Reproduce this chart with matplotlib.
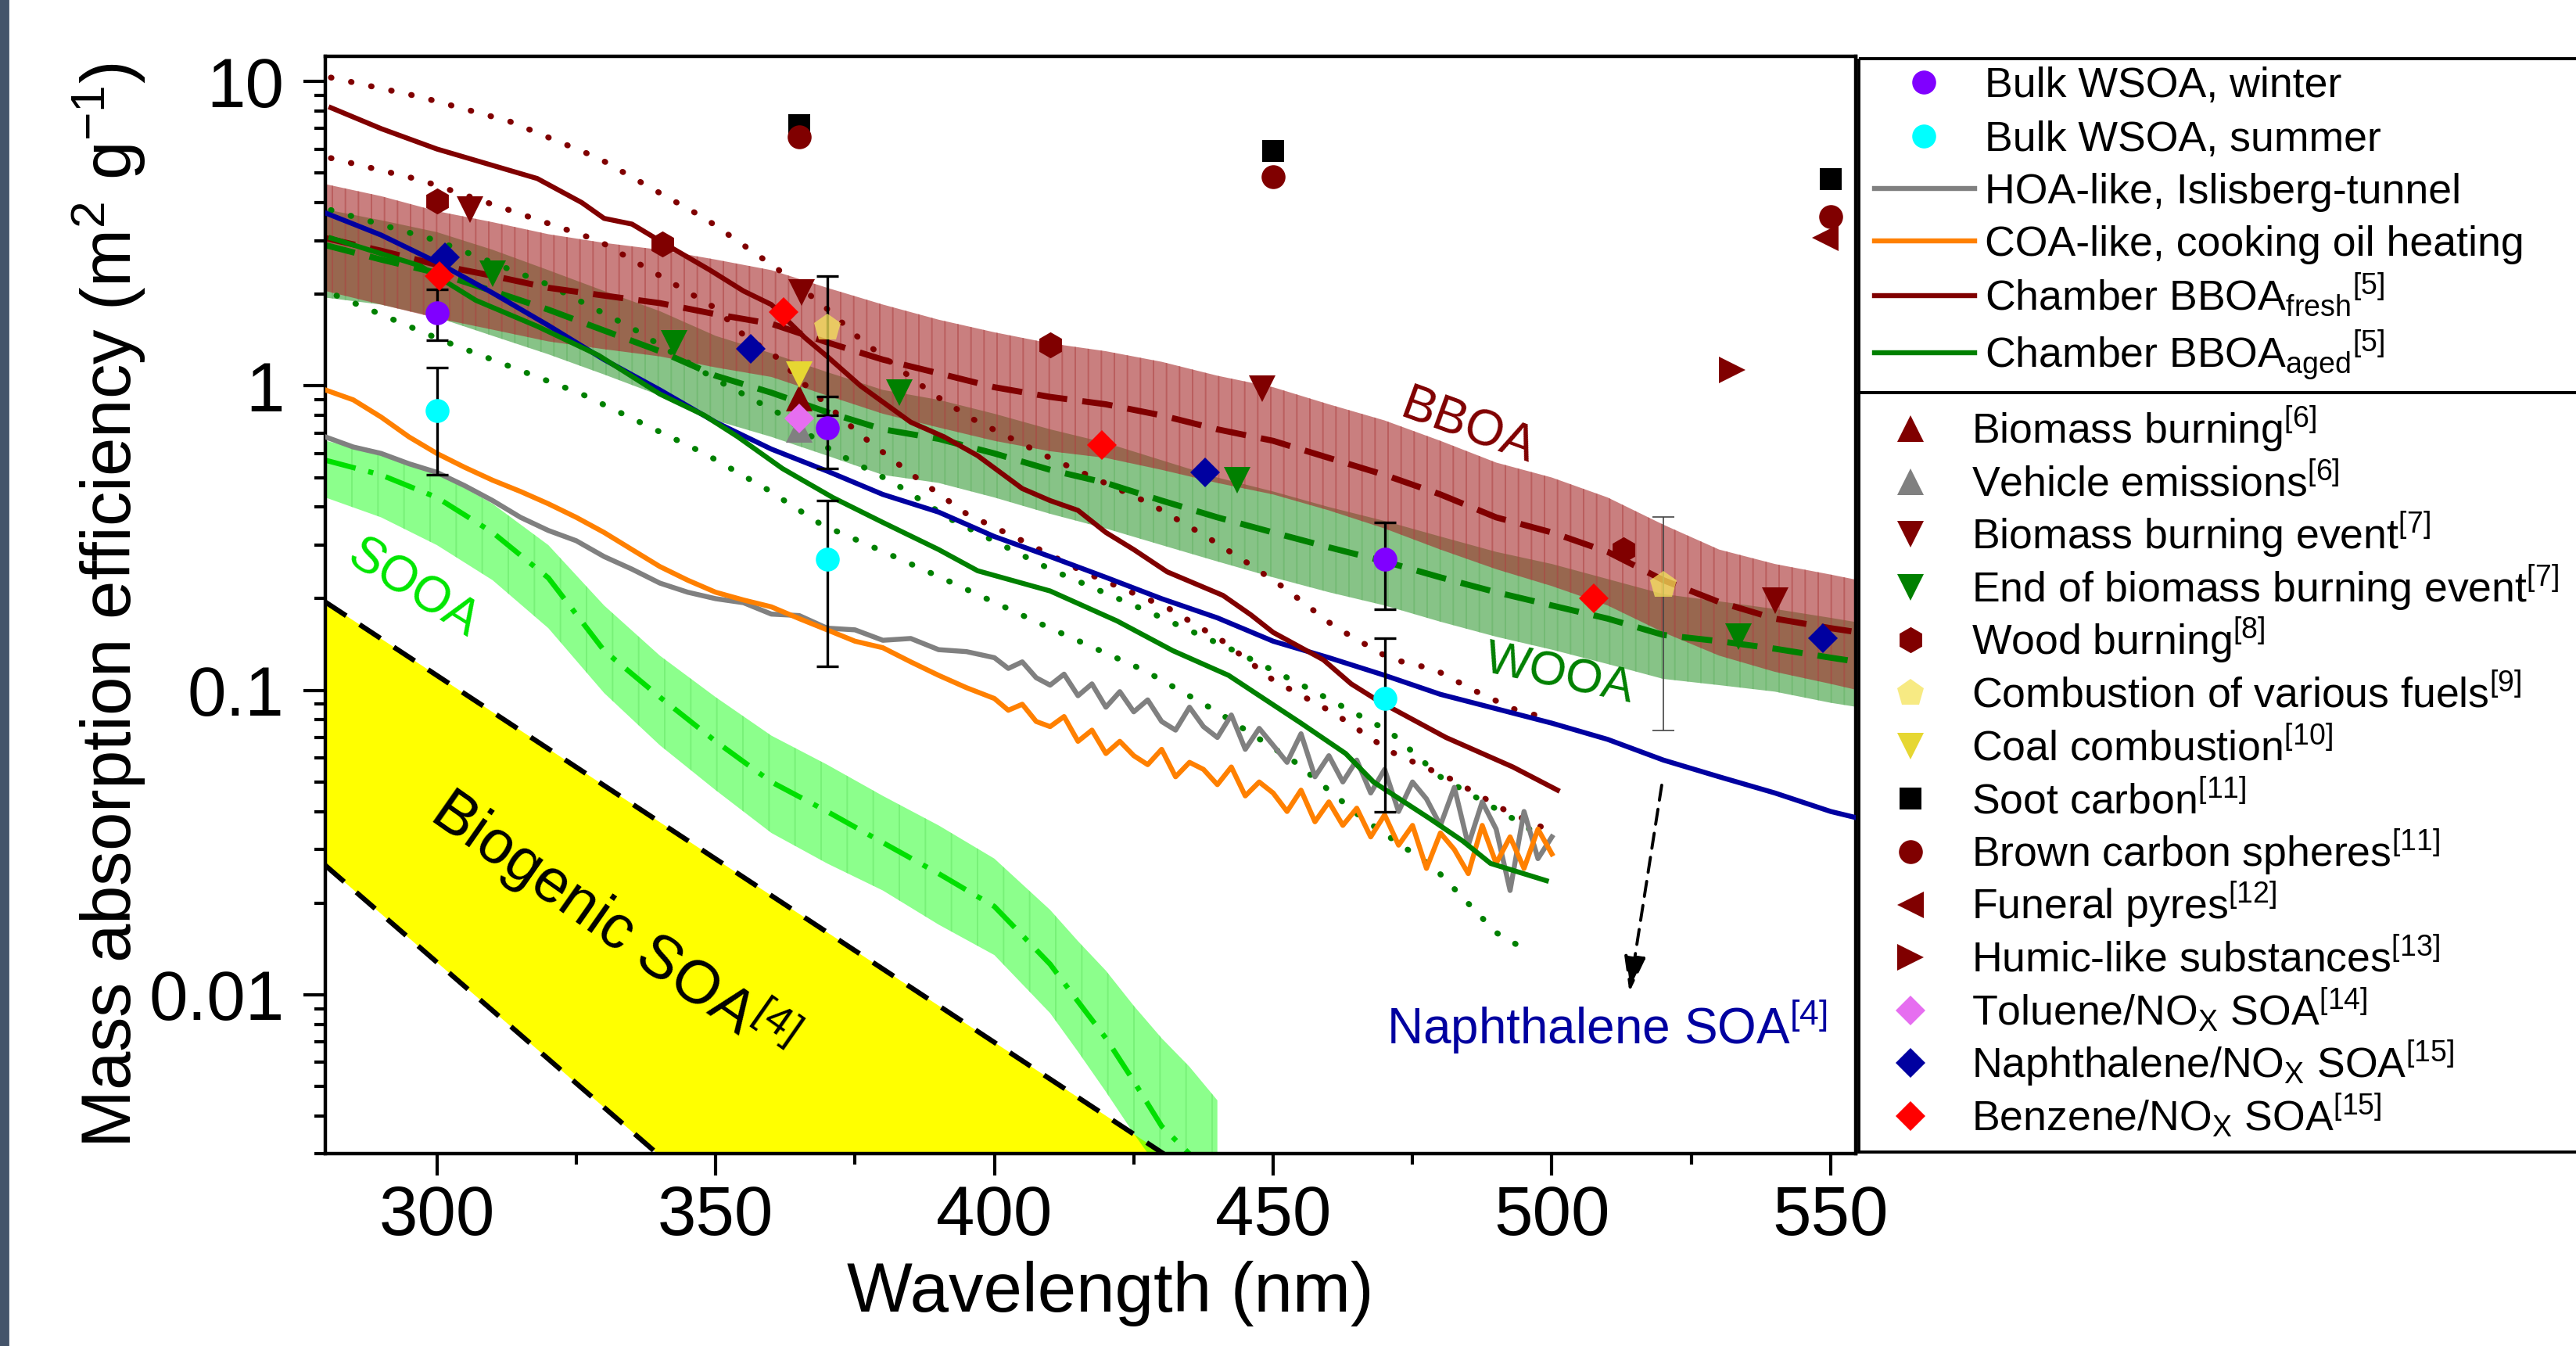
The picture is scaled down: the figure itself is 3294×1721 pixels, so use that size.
import matplotlib
matplotlib.use('Agg')
import matplotlib.pyplot as plt
import numpy as np
from matplotlib.patches import Rectangle
from matplotlib.ticker import LogLocator, NullFormatter, MultipleLocator

plt.rcParams['font.family'] = ['Liberation Sans', 'DejaVu Sans']
plt.rcParams['mathtext.fontset'] = 'custom'
plt.rcParams['mathtext.rm'] = 'Liberation Sans'
plt.rcParams['mathtext.it'] = 'Liberation Sans:italic'
plt.rcParams['mathtext.bf'] = 'Liberation Sans:bold'
plt.rcParams['hatch.linewidth'] = 0.7

# ---------------- data ----------------
band_wl = [280, 290, 300, 310, 320, 330, 340, 350, 360, 370, 380, 390, 400, 410, 420,
           430, 440, 450, 460, 470, 480, 490, 500, 510, 520, 530, 540, 550, 555]
bboa_mid = [3.06, 2.78, 2.5, 2.3, 2.1, 1.98, 1.87, 1.72, 1.6, 1.39, 1.22, 1.1, 0.99, 0.92, 0.87,
            0.8, 0.72, 0.66, 0.58, 0.51, 0.44, 0.37, 0.33, 0.285, 0.23, 0.195, 0.172, 0.16, 0.155]
bboa_hi = [4.6, 4.2, 3.75, 3.45, 3.15, 2.95, 2.8, 2.6, 2.4, 2.1, 1.85, 1.65, 1.5, 1.38, 1.3,
           1.2, 1.08, 0.99, 0.87, 0.77, 0.66, 0.56, 0.5, 0.43, 0.35, 0.29, 0.26, 0.24, 0.23]
bboa_lo = [2.05, 1.85, 1.67, 1.53, 1.4, 1.32, 1.25, 1.15, 1.07, 0.93, 0.81, 0.73, 0.66, 0.61, 0.58,
           0.53, 0.48, 0.44, 0.39, 0.34, 0.29, 0.25, 0.22, 0.19, 0.155, 0.13, 0.115, 0.105, 0.1]
wooa_mid = [2.9, 2.6, 2.35, 2.05, 1.78, 1.52, 1.3, 1.08, 0.95, 0.82, 0.72, 0.67, 0.6, 0.53, 0.48,
            0.42, 0.37, 0.33, 0.295, 0.265, 0.235, 0.21, 0.19, 0.172, 0.152, 0.145, 0.137, 0.128, 0.124]
wooa_hi = [3.8, 3.5, 3.2, 2.8, 2.4, 2.05, 1.76, 1.46, 1.28, 1.11, 0.97, 0.9, 0.81, 0.72, 0.65,
           0.57, 0.5, 0.45, 0.4, 0.36, 0.32, 0.285, 0.26, 0.232, 0.207, 0.196, 0.185, 0.173, 0.167]
wooa_lo = [1.95, 1.85, 1.68, 1.46, 1.27, 1.09, 0.93, 0.77, 0.68, 0.59, 0.51, 0.48, 0.43, 0.38, 0.34,
           0.3, 0.265, 0.235, 0.21, 0.19, 0.168, 0.15, 0.136, 0.122, 0.109, 0.104, 0.099, 0.091, 0.088]

sooa_wl = [280, 290, 300, 310, 320, 330, 340, 350, 360, 370, 380, 390, 400, 410, 415, 420, 425, 430, 435, 440]
sooa_mid = [0.57, 0.51, 0.43, 0.33, 0.234, 0.135, 0.095, 0.068, 0.05, 0.04, 0.0316, 0.025, 0.0195,
            0.0126, 0.0095, 0.0072, 0.0052, 0.0037, 0.003, 0.0024]
sooa_hi = [0.66, 0.6, 0.52, 0.41, 0.3, 0.19, 0.13, 0.095, 0.071, 0.057, 0.045, 0.036, 0.028,
           0.019, 0.015, 0.012, 0.0092, 0.0072, 0.0058, 0.0045]
sooa_lo = [0.43, 0.37, 0.3, 0.23, 0.16, 0.098, 0.066, 0.047, 0.034, 0.027, 0.022, 0.017, 0.0135,
           0.0087, 0.0065, 0.0048, 0.0035, 0.0026, 0.002, 0.0016]

# biogenic SOA range (dashed limits)
bsoa_up_wl = [280, 430.4]
bsoa_up = [0.195, 0.003]
bsoa_lo_wl = [280, 339.6]
bsoa_lo = [0.0266, 0.003]

noisy_wl = np.concatenate([np.arange(280, 400, 5), np.arange(400, 500.1, 2.5)])
hoa_val = [0.68, 0.63, 0.6, 0.555, 0.52, 0.47, 0.42, 0.37, 0.335, 0.31, 0.275, 0.25, 0.225, 0.21,
           0.2, 0.194, 0.178, 0.176, 0.16, 0.158, 0.146, 0.148, 0.136, 0.134,
           0.128, 0.118, 0.124, 0.11, 0.104, 0.113, 0.096, 0.105, 0.088, 0.099, 0.085, 0.093, 0.079,
           0.074, 0.088, 0.076, 0.07, 0.083, 0.064, 0.075, 0.066, 0.058, 0.072, 0.052, 0.061, 0.05,
           0.059, 0.046, 0.055, 0.04, 0.05, 0.044, 0.036, 0.048, 0.031, 0.043, 0.035, 0.022, 0.04,
           0.028, 0.033]
coa_val = [0.97, 0.9, 0.79, 0.68, 0.6, 0.54, 0.49, 0.45, 0.41, 0.37, 0.33, 0.29, 0.255, 0.23,
           0.21, 0.198, 0.188, 0.172, 0.158, 0.145, 0.138, 0.124, 0.112, 0.102,
           0.094, 0.086, 0.09, 0.079, 0.076, 0.082, 0.068, 0.074, 0.062, 0.068, 0.061, 0.057, 0.064,
           0.052, 0.058, 0.055, 0.049, 0.056, 0.045, 0.05, 0.046, 0.04, 0.047, 0.037, 0.043, 0.036,
           0.041, 0.033, 0.039, 0.031, 0.036, 0.026, 0.034, 0.03, 0.025, 0.036, 0.027, 0.033, 0.026,
           0.035, 0.029]

naph_line = [3.7, 3.13, 2.55, 2.02, 1.58, 1.22, 0.97, 0.76, 0.62, 0.525, 0.44, 0.385, 0.32, 0.275,
             0.235, 0.2, 0.173, 0.145, 0.128, 0.112, 0.097, 0.087, 0.078, 0.069, 0.059, 0.052,
             0.046, 0.04, 0.038]

fresh_wl = [281, 290, 300, 310, 318, 326, 330, 335, 341, 349, 355, 360, 366, 370, 376, 385, 391,
            397, 405, 410, 415, 420, 425, 431, 441, 446, 450, 459, 464, 469, 481, 493, 501]
fresh_val = [8.2, 7.0, 6.0, 5.3, 4.8, 4.0, 3.55, 3.4, 2.92, 2.4, 2.05, 1.85, 1.44, 1.25, 1.0, 0.76,
             0.68, 0.59, 0.46, 0.42, 0.39, 0.33, 0.29, 0.245, 0.205, 0.177, 0.155, 0.126, 0.105,
             0.092, 0.07, 0.056, 0.047]
fresh_hi_wl = [281, 297, 313, 329, 340, 348, 361, 370, 376, 389, 396, 410, 428, 438, 445, 452,
               461, 471, 479, 486, 493, 498]
fresh_hi = [10.3, 8.9, 7.4, 5.6, 4.3, 3.56, 2.43, 1.79, 1.42, 0.94, 0.78, 0.58, 0.41, 0.32, 0.265,
            0.217, 0.162, 0.127, 0.117, 0.1, 0.087, 0.082]
fresh_lo_wl = [281, 297, 313, 329, 340, 350, 355, 361, 367, 376, 385, 395, 405, 416, 431, 441,
               450, 461, 471, 482, 492, 499]
fresh_lo = [5.6, 4.75, 3.78, 3.0, 2.3, 1.8, 1.47, 1.24, 0.97, 0.69, 0.515, 0.38, 0.31, 0.245,
            0.187, 0.145, 0.108, 0.084, 0.063, 0.051, 0.04, 0.035]

aged_wl = [281, 297, 307, 318, 329, 340, 348, 354, 362, 371, 380, 390, 397, 410, 422, 432, 442,
           455, 463, 468, 478, 484, 489, 499]
aged_val = [3.06, 2.48, 1.91, 1.57, 1.26, 0.94, 0.8, 0.68, 0.535, 0.43, 0.356, 0.29, 0.247, 0.212,
            0.169, 0.135, 0.112, 0.078, 0.062, 0.05, 0.038, 0.032, 0.027, 0.0237]
aged_hi_wl = [281, 300, 320, 335, 350, 361, 371, 382, 392, 410, 428, 443, 457, 471, 480, 494, 497]
aged_hi = [3.78, 3.0, 2.15, 1.55, 1.05, 0.82, 0.61, 0.48, 0.366, 0.25, 0.18, 0.135, 0.1, 0.073,
           0.052, 0.037, 0.034]
aged_lo_wl = [282, 301, 326, 348, 359, 369, 380, 391, 410, 427, 440, 454, 466, 479, 490, 494]
aged_lo = [1.98, 1.41, 0.94, 0.6, 0.46, 0.35, 0.286, 0.232, 0.16, 0.116, 0.085, 0.058, 0.038,
           0.026, 0.016, 0.0145]

# single measurements
winter_wl = [300, 370, 470]
winter_val = [1.74, 0.73, 0.27]
winter_err = [0.33, 0.195, 0.085]
summer_wl = [300, 370, 470]
summer_val = [0.83, 0.27, 0.094]
summer_err = [0.32, 0.15, 0.054]
fuels_wl = [370, 520]
fuels_val = [1.55, 0.222]
fuels_err = [0.75, 0.148]

points = [
    ('Biomass burning$^{[6]}$', '^', '#800000', 12, [365], [0.91]),
    ('Vehicle emissions$^{[6]}$', '^', '#808080', 12, [365], [0.72]),
    ('Biomass burning event$^{[7]}$', 'v', '#800000', 12, [306, 365.4, 448, 540], [3.8, 2.03, 0.98, 0.197]),
    ('End of biomass burning event$^{[7]}$', 'v', '#008000', 12,
     [310, 342.6, 383, 443.5, 533.5], [2.33, 1.38, 0.95, 0.49, 0.15]),
    ('Wood burning$^{[8]}$', 'h', '#800000', 12, [300, 340.5, 410, 512.8], [4.04, 2.92, 1.36, 0.29]),
    ('Combustion of various fuels$^{[9]}$', 'p', '#f5e35a', 13, fuels_wl, fuels_val),
    ('Coal combustion$^{[10]}$', 'v', '#e6d732', 12, [365], [1.09]),
    ('Soot carbon$^{[11]}$', 's', '#000000', 10, [365, 450, 550], [7.2, 5.9, 4.78]),
    ('Brown carbon spheres$^{[11]}$', 'o', '#800000', 11, [365, 450, 550], [6.56, 4.87, 3.6]),
    ('Funeral pyres$^{[12]}$', '<', '#800000', 12, [549], [3.06]),
    ('Humic-like substances$^{[13]}$', '>', '#800000', 12, [532.4], [1.13]),
    (r'Toluene/NO$_{\mathrm{X}}$ SOA$^{[14]}$', 'D', '#e66ef0', 9.5, [365], [0.78]),
    (r'Naphthalene/NO$_{\mathrm{X}}$ SOA$^{[15]}$', 'D', '#0000a0', 9.5,
     [301.4, 356.3, 437.8, 548.6], [2.65, 1.32, 0.52, 0.148]),
    (r'Benzene/NO$_{\mathrm{X}}$ SOA$^{[15]}$', 'D', '#ff0000', 9.5,
     [300.5, 362.2, 419.3, 507.5], [2.29, 1.75, 0.64, 0.2]),
]

W, H = 3294, 1721
fig = plt.figure(figsize=(W / 200, H / 200), dpi=200)
ax = fig.add_axes([0.1263, 0.1427, 0.5941, 0.8155])
ax.set_yscale('log')

# bands (vertical hatching mimics the striped spectra)
ax.fill_between(sooa_wl, sooa_lo, sooa_hi, facecolor='#00ff00', edgecolor='#60e060', hatch='|',
                alpha=0.45, lw=0, zorder=1)
ax.fill_between(band_wl, wooa_lo, wooa_hi, facecolor='#008000', edgecolor='#5fb05f', hatch='||',
                alpha=0.47, lw=0, zorder=1.1)
ax.fill_between(band_wl, bboa_lo, bboa_hi, facecolor='#a52a2a', edgecolor='#b04848', hatch='||',
                alpha=0.6, lw=0, zorder=1.2)
ax.fill(bsoa_up_wl + bsoa_lo_wl[::-1], bsoa_up + bsoa_lo[::-1], color='#ffff00', lw=0, zorder=0.8)
ax.plot(bsoa_up_wl, bsoa_up, color='k', lw=2.3, ls=(0, (5, 3.2)), zorder=2)
ax.plot(bsoa_lo_wl, bsoa_lo, color='k', lw=2.3, ls=(0, (5, 3.2)), zorder=2)

ax.plot(band_wl, bboa_mid, color='#800000', lw=2.8, ls=(0, (5, 2.5)), zorder=2.5)
ax.plot(band_wl, wooa_mid, color='#008000', lw=2.8, ls=(0, (5, 2.5)), zorder=2.5)
ax.plot(sooa_wl, sooa_mid, color='#00e000', lw=2.4, ls=(0, (6, 2.5, 1, 2.5)), zorder=2.5)

dot = dict(lw=2.7, ls=(0, (0.1, 3.4)), dash_capstyle='round', zorder=2)
ax.plot(fresh_hi_wl, fresh_hi, color='#800000', **dot)
ax.plot(fresh_lo_wl, fresh_lo, color='#800000', **dot)
ax.plot(aged_hi_wl, aged_hi, color='#008000', **dot)
ax.plot(aged_lo_wl, aged_lo, color='#008000', **dot)

ax.plot(noisy_wl, hoa_val, color='#808080', lw=2.3, zorder=3)
ax.plot(noisy_wl, coa_val, color='#ff8000', lw=2.3, zorder=3)
ax.plot(band_wl, naph_line, color='#0000a0', lw=2.3, zorder=3.5)
ax.plot(fresh_wl, fresh_val, color='#800000', lw=2.3, zorder=3.5)
ax.plot(aged_wl, aged_val, color='#008000', lw=2.3, zorder=3.5)

# error bars
eb = dict(fmt='none', ecolor='k', elinewidth=1.2, capsize=5, capthick=1.2, zorder=4)
ax.errorbar(winter_wl, winter_val, yerr=winter_err, **eb)
ax.errorbar(summer_wl, summer_val, yerr=summer_err, **eb)
ax.errorbar(fuels_wl[:1], fuels_val[:1], yerr=fuels_err[:1], **eb)
ax.errorbar(fuels_wl[1:], fuels_val[1:], yerr=fuels_err[1:], fmt='none', ecolor='#444444',
            elinewidth=0.6, capsize=5, capthick=0.6, zorder=4)

for label, mk, col, ms, xs, ys in points:
    alpha = 0.75 if mk == 'p' else 1.0
    ax.plot(xs, ys, ls='none', marker=mk, color=col, ms=ms, mew=0, alpha=alpha, zorder=5)
ax.plot(winter_wl, winter_val, ls='none', marker='o', color='#8000ff', ms=11, mew=0, zorder=5)
ax.plot(summer_wl, summer_val, ls='none', marker='o', color='#00ffff', ms=11, mew=0, zorder=5)

# annotations
ax.text(485.0, 0.73, 'BBOA', color='#800000', fontsize=23, rotation=-20,
        ha='center', va='center', rotation_mode='anchor', zorder=6)
ax.text(501.3, 0.112, 'WOOA', color='#008000', fontsize=22, rotation=-12,
        ha='center', va='center', rotation_mode='anchor', zorder=6)
ax.text(295.7, 0.215, 'SOOA', color='#00e600', fontsize=23, rotation=-32,
        ha='center', va='center', rotation_mode='anchor', zorder=6)
ax.text(331.6, 0.0171, r'Biogenic SOA$^{\mathit{[4]}}$', color='k', fontsize=28, rotation=-35,
        ha='center', va='center', rotation_mode='anchor', zorder=6)
ax.text(470.3, 0.00687, r'Naphthalene SOA$^{[4]}$', color='#0000a0', fontsize=23,
        ha='left', va='baseline', zorder=6)
ax.annotate('', xy=(513.9, 0.0102), xytext=(519.7, 0.0488),
            arrowprops=dict(arrowstyle='-|>,head_length=0.5,head_width=0.15', lw=1.4,
                            ls=(0, (5, 3)), color='k', mutation_scale=28,
                            shrinkA=0, shrinkB=0), zorder=6)

# axes
ax.set_xlim(280, 554.5)
ax.set_ylim(0.003, 12.1)
ax.set_xticks([300, 350, 400, 450, 500, 550])
ax.xaxis.set_minor_locator(MultipleLocator(25))
ax.set_yticks([0.01, 0.1, 1, 10], labels=['0.01', '0.1', '1', '10'])
ax.yaxis.set_minor_locator(LogLocator(base=10, subs=np.arange(2, 10)))
ax.yaxis.set_minor_formatter(NullFormatter())
ax.tick_params(which='major', direction='out', length=10, width=1.5, labelsize=32)
ax.tick_params(which='minor', direction='out', length=5, width=1.5)
ax.tick_params(axis='x', which='major', pad=4)
ax.tick_params(axis='y', which='major', pad=9)
for s in ax.spines.values():
    s.set_linewidth(1.6)
ax.set_xlabel('Wavelength (nm)', fontsize=32)
ax.set_ylabel('Mass absorption efficiency (m$^2$ g$^{-1}$)', fontsize=32)
ax.xaxis.set_label_coords(0.513, -0.097)
ax.yaxis.set_label_coords(-0.116, 0.5)

# legend drawn in pixel coordinates on an overlay
lax = fig.add_axes([0, 0, 1, 1], facecolor='none')
lax.set_xlim(0, W)
lax.set_ylim(H, 0)
lax.axis('off')
lax.add_patch(Rectangle((0, 0), 10, H, color='#44546a', clip_on=False))
lax.add_patch(Rectangle((2377, 75), 960, 427, fill=False, ec='k', lw=1.4, clip_on=False))
lax.add_patch(Rectangle((2377, 502), 960, 971, fill=False, ec='k', lw=1.4, clip_on=False))

upper = [
    ('Bulk WSOA, winter', 'o', '#8000ff'),
    ('Bulk WSOA, summer', 'o', '#00ffff'),
    ('HOA-like, Islisberg-tunnel', '-', '#808080'),
    ('COA-like, cooking oil heating', '-', '#ff8000'),
    (r'Chamber BBOA$_{\mathrm{fresh}}$$^{[5]}$', '-', '#800000'),
    (r'Chamber BBOA$_{\mathrm{aged}}$$^{[5]}$', '-', '#008000'),
]
upper_y = [105, 174, 241, 308, 378, 451]
for (label, kind, col), yy in zip(upper, upper_y):
    if kind == '-':
        lax.plot([2397, 2525], [yy, yy], color=col, lw=2.3)
    else:
        lax.plot([2460], [yy], ls='none', marker=kind, color=col, ms=11, mew=0)
    lax.text(2538, yy + 19, label, fontsize=19.3, ha='left', va='baseline')

lower_y = np.linspace(548, 1427, len(points))
for (label, mk, col, ms, xs, ys), yy in zip(points, lower_y):
    alpha = 0.75 if mk == 'p' else 1.0
    lax.plot([2443], [yy], ls='none', marker=mk, color=col, ms=ms, mew=0, alpha=alpha)
    lax.text(2521, yy + 19, label, fontsize=19.3, ha='left', va='baseline')

fig.savefig('out.png', dpi=200, facecolor='white')
